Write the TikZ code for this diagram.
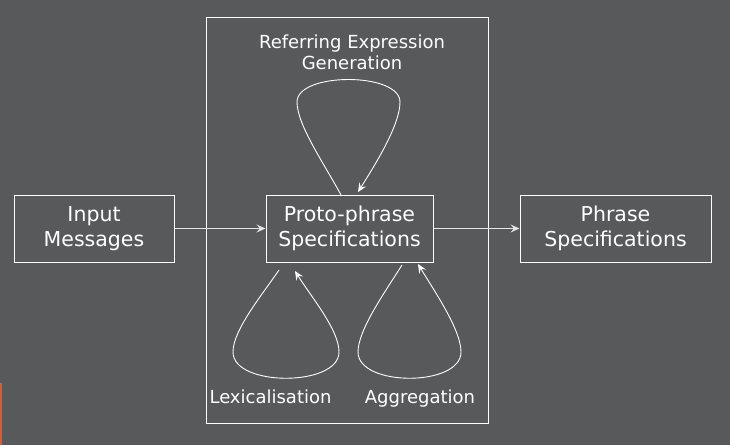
\documentclass[tikz,border=0pt]{standalone}
\usepackage{fontspec}
\setmainfont{DejaVu Sans}
\usetikzlibrary{arrows.meta}
\definecolor{bgc}{HTML}{58595B}
\definecolor{accent}{HTML}{D0603A}
\tikzset{
  box/.style={draw=white, line width=1pt, text=white, align=center, inner sep=0pt,
    minimum height=67pt, font=\fontsize{20.5}{25}\selectfont},
  lbl/.style={text=white, align=center, inner sep=0pt, font=\fontsize{18}{21.5}\selectfont},
  conn/.style={draw=white, line width=0.9pt, -{Stealth[length=9pt,width=8pt,inset=3.5pt]}},
  harr/.style={draw=white!85!bgc, line width=1.3pt, -{Stealth[length=9pt,width=8pt,inset=3.5pt]}}
}
\begin{document}
\begin{tikzpicture}[x=1pt,y=-1pt]
\fill[bgc] (0,0) rectangle (730,445);
\useasboundingbox (0,0) rectangle (730,445);
\fill[accent] (0,383) rectangle (2,445);
% module frame
\node[draw=white, line width=1pt, minimum width=282pt, minimum height=406pt, inner sep=0pt] (frame) at (347,220) {};
% boxes
\node[box, minimum width=160pt] (in) at (94,228.5) {Input\\Messages};
\node[box, minimum width=167pt] (proto) at (349.5,228.5) {Proto-phrase\\Specifications};
\node[box, minimum width=191pt] (phrase) at (615.5,228.5) {Phrase\\Specifications};
% labels
\node[lbl] (reg) at (352,52.5) {Referring Expression\\Generation};
\node[lbl, anchor=base] (lex) at (270.5,403) {Lexicalisation};
\node[lbl, anchor=base] (agg) at (420,403) {Aggregation};
% horizontal arrows
\draw[harr] (in) -- (proto);
\draw[harr] (proto) -- (phrase);
% loops
\coordinate (t1) at (341,195);
\coordinate (t2) at (358,192);
\draw[conn] (t1) .. controls (325,165) and (297,125) .. (297,102)
  .. controls (297,72) and (400,72) .. (400,102)
  .. controls (400,125) and (375,165) .. (t2);
\coordinate (l1) at (279,270);
\coordinate (l2) at (295,271);
\draw[conn] (l1) .. controls (262,295) and (233,330) .. (233,352)
  .. controls (233,387) and (339,387) .. (339,352)
  .. controls (339,330) and (312,298) .. (l2);
\coordinate (a1) at (402,265);
\coordinate (a2) at (418,264);
\draw[conn] (a1) .. controls (385,292) and (358,330) .. (358,352)
  .. controls (358,387) and (461,387) .. (461,352)
  .. controls (461,330) and (435,292) .. (a2);
\end{tikzpicture}
\end{document}
